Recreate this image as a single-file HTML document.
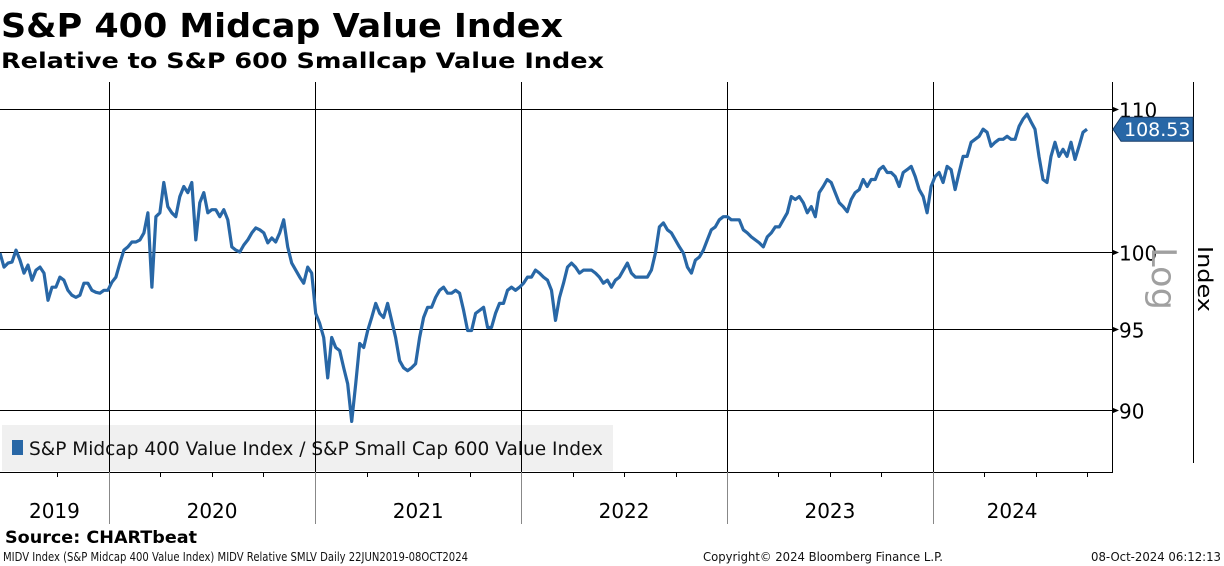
<!DOCTYPE html>
<html><head><meta charset="utf-8"><style>
html,body{margin:0;padding:0;background:#fff;}
svg{display:block;font-family:"DejaVu Sans","Liberation Sans",sans-serif;}
</style></head><body>
<svg id="chart" width="1224" height="566" viewBox="0 0 1224 566" xmlns="http://www.w3.org/2000/svg">
<text x="1" y="37" font-size="33" font-weight="bold" textLength="562" lengthAdjust="spacingAndGlyphs">S&amp;P 400 Midcap Value Index</text>
<text x="1" y="68" font-size="21" font-weight="bold" textLength="603" lengthAdjust="spacingAndGlyphs">Relative to S&amp;P 600 Smallcap Value Index</text>
<g id="grid"></g>
<rect x="2" y="425" width="611" height="46" fill="#f0f0f0"/>
<rect x="12" y="440" width="11" height="15" fill="#2867a6"/>
<text x="29" y="455" font-size="19" fill="#111" textLength="574" lengthAdjust="spacingAndGlyphs">S&amp;P Midcap 400 Value Index / S&amp;P Small Cap 600 Value Index</text>
<g id="vlines"></g>
<g id="series"></g>
<line x1="1112.5" y1="82" x2="1112.5" y2="472" stroke="#000" stroke-width="1"/>
<line x1="0" y1="472.5" x2="1113" y2="472.5" stroke="#000" stroke-width="1"/>
<line x1="1193.5" y1="82" x2="1193.5" y2="463" stroke="#000" stroke-width="1"/>
<g id="yticks"></g>
<g id="xticks"></g>
<g>
<path id="lastbox" d="" fill="#2867a6" stroke="#1a3f6a" stroke-width="1"/>
<text id="lasttext" x="1124" y="137" font-size="19" fill="#fff">108.53</text>
</g>
<text transform="translate(1152,247) rotate(90)" font-size="34" fill="#a0a0a0" textLength="63" lengthAdjust="spacingAndGlyphs">Log</text>
<text transform="translate(1198,246) rotate(90)" font-size="20" fill="#000" textLength="66" lengthAdjust="spacingAndGlyphs">Index</text>
<text x="5" y="543" font-size="17" font-weight="bold" textLength="192" lengthAdjust="spacingAndGlyphs">Source: CHARTbeat</text>
<text x="3" y="561" font-size="12" fill="#111" textLength="465" lengthAdjust="spacingAndGlyphs">MIDV Index (S&amp;P Midcap 400 Value Index) MIDV Relative SMLV  Daily 22JUN2019-08OCT2024</text>
<text x="703" y="561" font-size="12" fill="#111" textLength="240" lengthAdjust="spacingAndGlyphs">Copyright© 2024 Bloomberg Finance L.P.</text>
<text x="1091" y="561" font-size="12" fill="#111" textLength="130" lengthAdjust="spacingAndGlyphs">08-Oct-2024 06:12:13</text>
</svg>
<script>
const values = [99.93,99.00,99.26,99.33,100.13,99.46,98.60,99.13,98.14,98.80,99.00,98.60,96.83,97.68,97.68,98.34,98.14,97.48,97.16,97.02,97.16,97.94,97.94,97.48,97.35,97.29,97.48,97.48,98.01,98.34,99.26,100.13,100.34,100.67,100.67,100.81,101.28,102.65,97.68,102.38,102.65,104.74,103.07,102.65,102.38,103.76,104.46,104.04,104.74,100.81,103.34,104.04,102.65,102.86,102.86,102.38,102.86,102.17,100.34,100.13,100.00,100.47,100.81,101.28,101.62,101.49,101.28,100.61,100.94,100.67,101.28,102.17,100.34,99.26,98.80,98.34,97.94,99.00,98.60,95.99,95.35,94.46,91.95,94.46,93.83,93.64,92.57,91.58,89.32,91.58,94.08,93.83,94.90,95.73,96.63,95.99,95.73,96.63,95.54,94.46,93.01,92.57,92.39,92.57,92.82,94.46,95.73,96.38,96.38,97.02,97.48,97.68,97.29,97.29,97.48,97.29,96.18,94.90,94.90,95.99,96.18,96.38,95.09,95.09,95.99,96.63,96.63,97.48,97.68,97.48,97.68,97.94,98.34,98.34,98.80,98.60,98.34,98.14,97.48,95.54,97.02,97.94,99.00,99.26,99.00,98.60,98.80,98.80,98.80,98.60,98.34,97.94,98.14,97.68,98.14,98.34,98.80,99.26,98.60,98.34,98.34,98.34,98.34,98.80,99.93,101.69,101.96,101.49,101.28,100.81,100.34,99.93,99.00,98.60,99.46,99.67,100.13,100.81,101.49,101.69,102.17,102.38,102.38,102.17,102.17,102.17,101.49,101.28,101.01,100.81,100.61,100.34,101.01,101.28,101.69,101.69,102.17,102.65,103.76,103.56,103.76,103.34,102.65,103.07,102.38,104.04,104.46,104.95,104.74,104.04,103.34,103.07,102.72,103.56,104.04,104.25,104.95,104.46,104.95,104.95,105.65,105.87,105.44,105.44,105.16,104.46,105.44,105.65,105.87,105.16,104.25,103.76,102.65,104.46,105.16,105.44,104.74,105.87,105.65,104.25,105.44,106.58,106.58,107.59,107.80,108.02,108.53,108.31,107.30,107.59,107.80,107.80,108.02,107.80,107.80,108.74,109.27,109.63,109.05,108.53,106.58,104.95,104.74,106.58,107.59,106.58,107.09,106.58,107.59,106.37,107.30,108.31,108.53];
const yTicks = [90,95,100,110];
const yearLabels = ["2019","2020","2021","2022","2023","2024"];
const yearStartDays = [0,193,559,924,1289,1654];
const lastValue = 108.53;

const NS = "http://www.w3.org/2000/svg";
const PX_PER_DAY = 206/365.25;
const totalDays = 1935;
function xOfDay(d){ return d*PX_PER_DAY; }
function xOfIndex(i){ return i*(1087/(values.length-1)); }
function yOf(v){ return 252 - 1500*Math.log(v/100); }
function mk(tag, attrs, parent){ const e=document.createElementNS(NS,tag); for(const k in attrs) e.setAttribute(k,attrs[k]); parent.appendChild(e); return e; }

const grid = document.getElementById('grid');
const yt = document.getElementById('yticks');
yTicks.forEach(t=>{
  const y = Math.round(yOf(t))+0.5;
  const l = mk('line',{x1:0,y1:y,x2:1112,y2:y,stroke:'#000','stroke-width':1},grid);
  
  
  const a = mk('path',{d:`M1112 ${y-3} L1119 ${y} L1112 ${y+3} Z`,fill:'#000'},yt);
  
  
  const tx = mk('text',{x:1119,y:y+8,'font-size':20,fill:'#000'},yt);
  tx.textContent = t;
  
  
});

const vl = document.getElementById('vlines');
const xt = document.getElementById('xticks');
yearStartDays.forEach((d,i)=>{
  const x = Math.round(xOfDay(d))+0.5;
  if(i>0){
    const l = mk('line',{x1:x,y1:82,x2:x,y2:472,stroke:'#000','stroke-width':1},vl);
    
    
    const s = mk('line',{x1:x,y1:472,x2:x,y2:524,stroke:'#888','stroke-width':1},xt);
    
    
  }
  const end = i<yearStartDays.length-1 ? yearStartDays[i+1] : totalDays;
  const cx = (xOfDay(d)+xOfDay(Math.min(end, i<yearStartDays.length-1?end:d+365)))/2;
  const tx = mk('text',{x:Math.min(cx,1021),y:518,'font-size':20,'text-anchor':'middle',fill:'#000'},xt);
  tx.textContent = yearLabels[i];
  
  
  for(let q=1;q<4;q++){
    const qd = d===0 ? 101+ (q-1)*91 : d+q*91.3;
    if(d===0 && q>1) break;
    const qx = Math.round(xOfDay(qd))+0.5;
    if(qx>1110) continue;
    const m = mk('line',{x1:qx,y1:472,x2:qx,y2:477,stroke:'#000','stroke-width':1},xt);
    
    
  }
});

const series = document.getElementById('series');
let d = '';
values.forEach((v,i)=>{ d += (i?'L':'M') + xOfIndex(i).toFixed(1) + ' ' + yOf(v).toFixed(1); });
const p = mk('path',{d:d,fill:'none',stroke:'#2867a6','stroke-width':3.2,'stroke-linejoin':'round'},series);



const ly = yOf(lastValue);
document.getElementById('lastbox').setAttribute('d',`M1113 ${ly} L1121 ${ly-12} L1193 ${ly-12} L1193 ${ly+12} L1121 ${ly+12} Z`);
document.getElementById('lasttext').setAttribute('y',(ly+7).toFixed(1));
</script>
</body></html>
